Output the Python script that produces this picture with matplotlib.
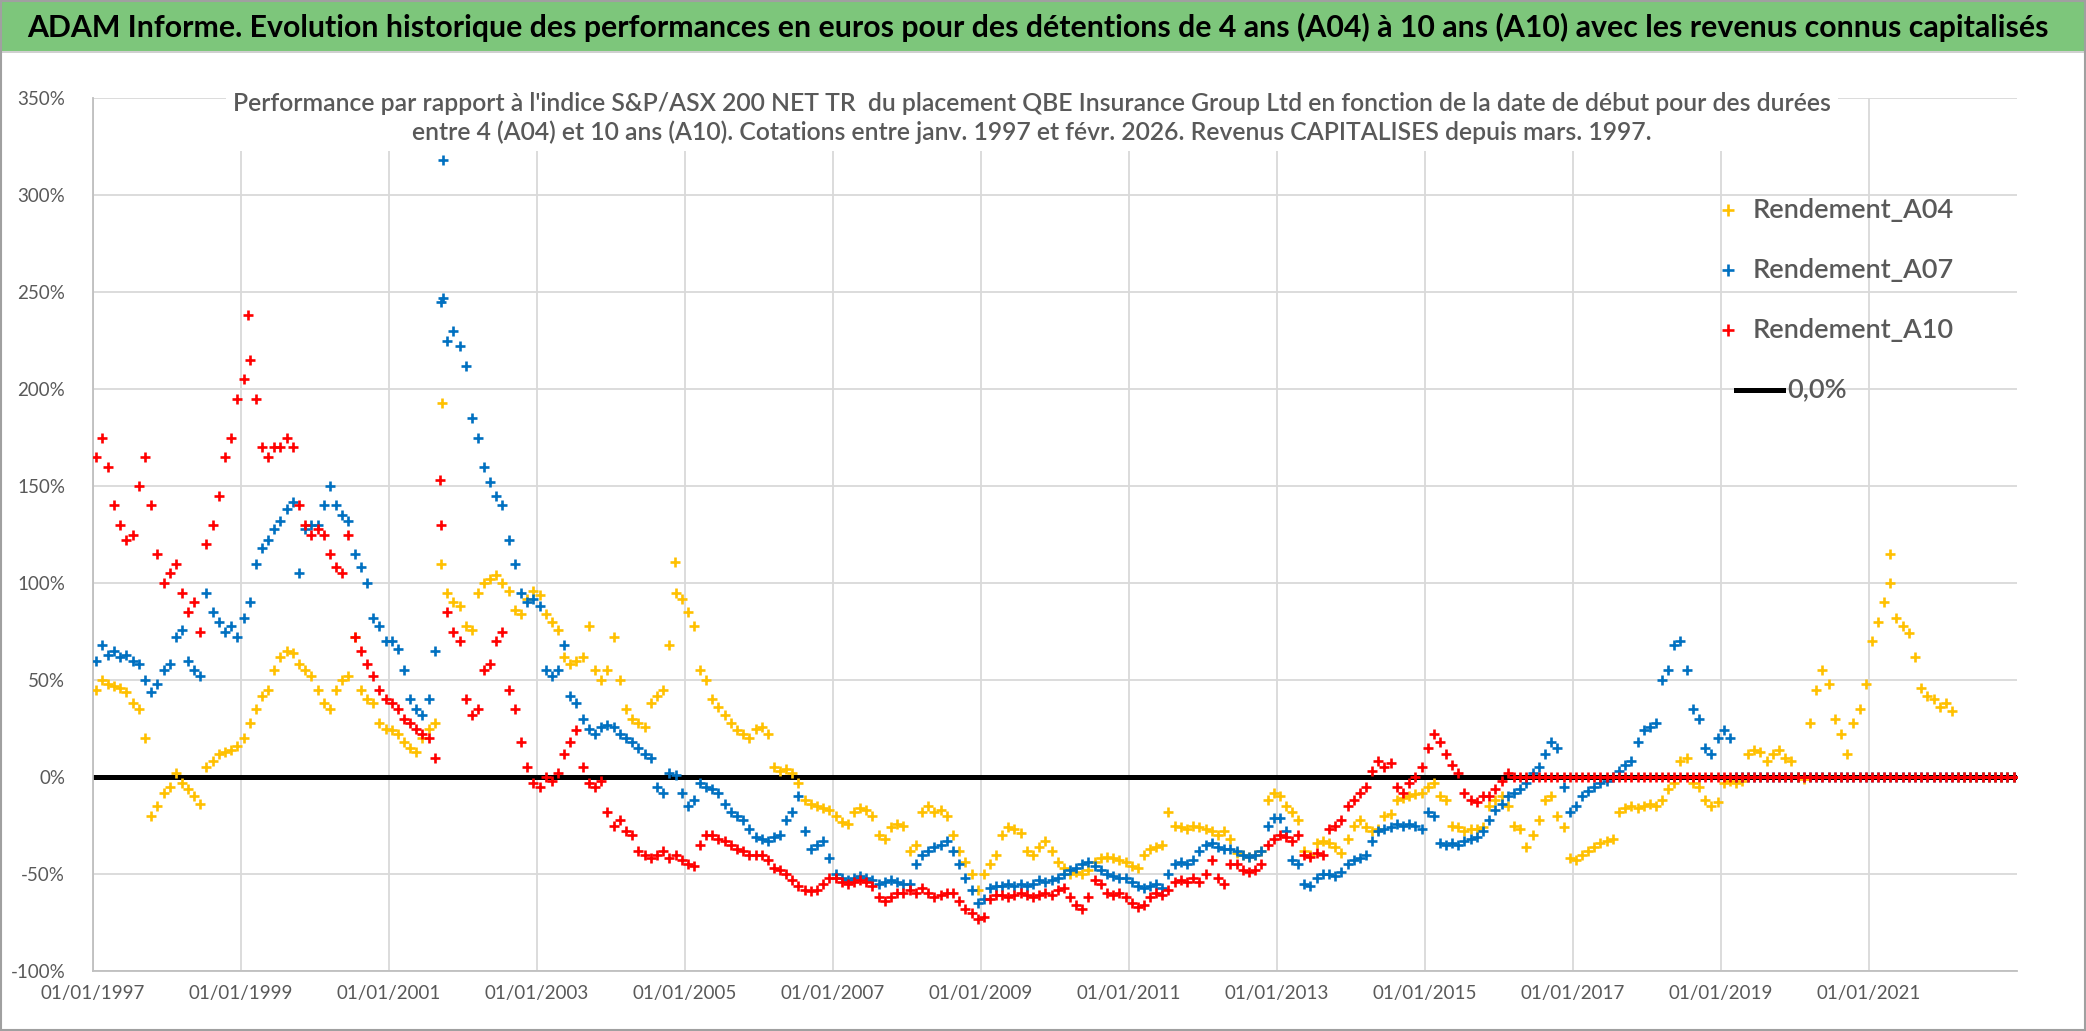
import numpy as np
import pandas as pd
import matplotlib
matplotlib.use("Agg")
import matplotlib.pyplot as plt
import matplotlib.dates as mdates
from matplotlib.lines import Line2D
from matplotlib.patches import Rectangle

# Valeurs mensuelles (en %), une ligne par annee
a04_start = "1997-01"
a04 = [
    45, 50, 48, 47, 46, 44, 38, 35, 20, -20, -15, -8,        # 1997
    -5, 2, -3, -6, -10, -14, 5, 8, 12, 13, 14, 16,            # 1998
    20, 28, 35, 42, 45, 55, 62, 65, 64, 58, 55, 52,           # 1999
    45, 38, 35, 45, 50, 52, 72, 45, 40, 38, 28, 25,           # 2000
    24, 22, 18, 15, 13, 20, 25, 28, 110, 95, 90, 88,          # 2001
    78, 76, 95, 100, 102, 104, 100, 96, 86, 84, 92, 96,       # 2002
    94, 84, 80, 76, 62, 58, 60, 62, 78, 55, 50, 55,           # 2003
    72, 50, 35, 30, 28, 26, 38, 42, 45, 68, 95, 92,           # 2004
    85, 78, 55, 50, 40, 36, 32, 28, 24, 22, 20, 25,           # 2005
    26, 22, 5, 3, 4, 2, -3, -12, -14, -15, -16, -17,          # 2006
    -20, -23, -24, -18, -16, -17, -20, -30, -32, -26, -24, -25,  # 2007
    -38, -35, -18, -15, -18, -17, -20, -30, -38, -44, -50, -58,  # 2008
    -50, -45, -40, -30, -26, -27, -29, -38, -40, -36, -33, -38,  # 2009
    -44, -47, -50, -49, -50, -48, -44, -42, -41, -42, -43, -44,  # 2010
    -46, -47, -40, -37, -36, -35, -18, -25, -26, -27, -25, -26,  # 2011
    -27, -28, -30, -28, -32, -39, -40, -41, -40, -38, -12, -8,   # 2012
    -10, -15, -18, -22, -38, -40, -34, -33, -34, -36, -39, -32,  # 2013
    -25, -22, -26, -28, -27, -20, -19, -12, -11, -10, -9, -8,    # 2014
    -5, -3, -10, -12, -25, -26, -28, -27, -27, -26, -15, -12,    # 2015
    -10, -15, -25, -27, -36, -30, -22, -12, -10, -20, -26, -42,  # 2016
    -43, -40, -38, -36, -34, -33, -32, -18, -16, -15, -16, -15,  # 2017
    -14, -15, -12, -6, -3, 8, 10, -3, -5, -12, -15, -13,         # 2018
    -3, -2, -3, -2, 12, 14, 13, 8, 12, 14, 10, 8,                # 2019
    0, -1, 28, 45, 55, 48, 30, 22, 12, 28, 35, 48,               # 2020
    70, 80, 90, 100, 82, 78, 74, 62, 46, 42, 40, 36,             # 2021
    38, 34,                                                      # 2022
]
a04_spike_dates = ["2001-09-20", "2004-11-12", "2021-04-15"]
a04_spike_vals = [193, 111, 115]

a07_start = "1997-01"
a07 = [
    60, 68, 63, 65, 62, 63, 60, 58, 50, 44, 48, 55,           # 1997
    58, 72, 76, 60, 55, 52, 95, 85, 80, 75, 78, 72,           # 1998
    82, 90, 110, 118, 122, 128, 132, 138, 142, 105, 128, 130, # 1999
    130, 140, 150, 140, 135, 132, 115, 108, 100, 82, 78, 70,  # 2000
    70, 66, 55, 40, 35, 32, 40, 65, 245, 225, 230, 222,       # 2001
    212, 185, 175, 160, 152, 145, 140, 122, 110, 95, 90, 92,  # 2002
    88, 55, 52, 55, 68, 42, 38, 30, 25, 22, 26, 27,           # 2003
    26, 22, 20, 18, 15, 12, 10, -5, -8, 2, 1, -8,             # 2004
    -15, -12, -3, -5, -6, -8, -14, -18, -20, -22, -27, -31,   # 2005
    -32, -33, -31, -30, -22, -18, -10, -28, -37, -35, -33, -42,  # 2006
    -50, -52, -53, -52, -51, -52, -53, -55, -54, -53, -54, -55,  # 2007
    -55, -45, -40, -38, -36, -35, -33, -38, -45, -52, -58, -65,  # 2008
    -63, -57, -56, -56, -55, -56, -55, -56, -55, -53, -54, -53,  # 2009
    -52, -50, -48, -47, -45, -44, -46, -48, -50, -51, -52, -52,  # 2010
    -54, -56, -57, -56, -55, -57, -50, -45, -44, -45, -43, -38,  # 2011
    -35, -34, -36, -37, -37, -38, -40, -41, -40, -38, -25, -21,  # 2012
    -21, -28, -43, -45, -55, -56, -52, -50, -50, -51, -49, -45,  # 2013
    -43, -42, -40, -33, -28, -27, -26, -24, -25, -24, -25, -27,  # 2014
    -18, -20, -34, -35, -34, -35, -33, -32, -31, -28, -22, -17,  # 2015
    -14, -10, -8, -6, -3, 2, 5, 12, 18, 15, -5, -18,             # 2016
    -15, -10, -7, -5, -3, -2, 0, 3, 6, 8, 18, 24,                # 2017
    26, 28, 50, 55, 68, 70, 55, 35, 30, 15, 12, 20,              # 2018
    24, 20,                                                      # 2019
]
a07_spike_dates = ["2001-09-22", "2001-09-26"]
a07_spike_vals = [318, 247]

a10_start = "1997-01"
a10 = [
    165, 175, 160, 140, 130, 122, 125, 150, 165, 140, 115, 100,  # 1997
    105, 110, 95, 85, 90, 75, 120, 130, 145, 165, 175, 195,      # 1998
    205, 215, 195, 170, 165, 170, 170, 175, 170, 140, 130, 125,  # 1999
    128, 125, 115, 108, 105, 125, 72, 65, 58, 52, 45, 40,        # 2000
    38, 35, 30, 28, 25, 22, 20, 10, 130, 85, 75, 70,             # 2001
    40, 32, 35, 55, 58, 70, 75, 45, 35, 18, 5, -3,               # 2002
    -5, 0, -2, 2, 12, 18, 24, 5, -3, -5, -2, -18,                # 2003
    -25, -22, -28, -30, -38, -40, -42, -40, -38, -42, -40, -43,  # 2004
    -45, -46, -35, -30, -30, -32, -33, -35, -37, -38, -40, -40,  # 2005
    -40, -43, -47, -48, -50, -53, -56, -58, -59, -58, -55, -52,  # 2006
    -52, -54, -55, -54, -53, -54, -56, -62, -64, -62, -60, -60,  # 2007
    -58, -60, -57, -60, -62, -61, -60, -60, -64, -68, -70, -73,  # 2008
    -72, -63, -61, -61, -62, -61, -60, -61, -62, -61, -60, -61,  # 2009
    -58, -57, -62, -66, -68, -62, -53, -55, -60, -61, -60, -62,  # 2010
    -65, -67, -66, -62, -60, -61, -58, -54, -53, -54, -52, -54,  # 2011
    -50, -43, -52, -55, -45, -45, -48, -49, -48, -45, -35, -32,  # 2012
    -30, -31, -33, -30, -40, -41, -39, -40, -27, -25, -22, -15,  # 2013
    -12, -8, -5, 3, 8, 5, 7, -5, -8, -3, 0, 5,                   # 2014
    15, 22, 18, 12, 6, 2, -8, -12, -13, -10, -10, -6,            # 2015
    -2, 2,                                                       # 2016
]
a10_spike_dates = ["1999-02-05", "2001-09-12"]
a10_spike_vals = [238, 153]

# apres la fin de chaque serie les points sont a 0 jusqu'au bout de l'axe
zero_until = "2022-12"
zero_line_dates = ["1997-01-01", "2023-01-01"]
zero_line_vals = [0.0, 0.0]

x_tick_years = list(range(1997, 2022, 2))
y_ticks = list(range(-100, 351, 50))

colors = {"A04": "#FFC000", "A07": "#0070C0", "A10": "#FF0000"}
gris = "#595959"
vert = "#7DC67B"

plt.rcParams["font.family"] = ["Lato", "DejaVu Sans"]

W, H = 2086, 1031
def fx(px):
    return px / W
def fy(py):
    return 1 - py / H


def serie(start, vals):
    d = pd.date_range(start, periods=len(vals), freq="MS") + pd.Timedelta(days=14)
    z = pd.date_range(d[-1] + pd.offsets.MonthBegin(1), zero_until, freq="MS") + pd.Timedelta(days=14)
    dates = d.append(z)
    v = np.concatenate([np.array(vals, float), np.zeros(len(z))])
    return dates, v


fig = plt.figure(figsize=(W / 100, H / 100), dpi=100)
fig.patch.set_facecolor("white")

# bandeau titre
fig.patches.append(Rectangle((0, fy(52)), 1, fy(2) - fy(52), transform=fig.transFigure,
                             facecolor=vert, edgecolor="none", zorder=0))
fig.patches.append(Rectangle((0, fy(53)), 1, fy(51) - fy(53), transform=fig.transFigure,
                             facecolor="#D0D0D0", edgecolor="none", zorder=0))
fig.patches.append(Rectangle((0.0005, 0.001), 0.999, 0.998, transform=fig.transFigure,
                             facecolor="none", edgecolor="#A0A0A0", lw=1.5, zorder=0))

ax = fig.add_axes([fx(93), fy(971), fx(2017) - fx(93), fy(98) - fy(971)])

ax.plot(pd.to_datetime(zero_line_dates), zero_line_vals, color="black", lw=3.6, zorder=2)

for key, start, vals, sd, sv in [("A04", a04_start, a04, a04_spike_dates, a04_spike_vals),
                                  ("A07", a07_start, a07, a07_spike_dates, a07_spike_vals),
                                  ("A10", a10_start, a10, a10_spike_dates, a10_spike_vals)]:
    dd, vv = serie(start, vals)
    ax.scatter(dd, vv, marker="+", s=60, linewidths=1.9, color=colors[key], zorder=3)
    ax.scatter(pd.to_datetime(sd), sv, marker="+", s=60, linewidths=1.9, color=colors[key], zorder=3)

ax.set_xlim(pd.Timestamp("1997-01-01"), pd.Timestamp("2023-01-01"))
ax.set_ylim(-100, 350)
ax.set_xticks([pd.Timestamp(f"{y}-01-01") for y in x_tick_years])
ax.xaxis.set_major_formatter(mdates.DateFormatter("%d/%m/%Y"))
ax.set_yticks(y_ticks)
ax.set_yticklabels([f"{t}%" for t in y_ticks])
ax.tick_params(length=0, labelsize=13.5, colors=gris)
ax.tick_params(axis="x", pad=10)
ax.tick_params(axis="y", pad=20)
ax.grid(True, color="#D9D9D9", lw=1.3)
ax.set_axisbelow(True)
for s in ["top", "right"]:
    ax.spines[s].set_visible(False)
for s in ["left", "bottom"]:
    ax.spines[s].set_color("#BFBFBF")
    ax.spines[s].set_linewidth(1.3)

renderer = fig.canvas.get_renderer()


def fit(t, largeur):
    w = t.get_window_extent(renderer).width
    t.set_fontsize(t.get_fontsize() * largeur / w)


titre = fig.text(fx(1038), fy(27), "ADAM Informe. Evolution historique des performances en euros pour des "
                 "détentions de 4 ans (A04) à 10 ans (A10) avec les revenus connus capitalisés",
                 ha="center", va="center", fontsize=20, fontweight="bold", color="black")
fit(titre, 2018)

l1 = "Performance par rapport à l'indice S&P/ASX 200 NET TR  du placement QBE Insurance Group Ltd en fonction de la date de début pour des durées"
l2 = "entre 4 (A04) et 10 ans (A10). Cotations entre janv. 1997 et févr. 2026. Revenus CAPITALISES depuis mars. 1997."
sous = fig.text(fx(1032), fy(118), l1 + "\n" + l2, ha="center", va="center", multialignment="center",
                fontsize=15, fontweight=600, color=gris, linespacing=1.3,
                bbox=dict(facecolor="white", edgecolor="none", pad=4))
tmp = fig.text(0, 0, l1, fontsize=15, fontweight=600)
w1 = tmp.get_window_extent(renderer).width
tmp.remove()
sous.set_fontsize(15 * 1603 / w1)

# legende
leg_y = [210, 270, 330]
for key, y in zip(["A04", "A07", "A10"], leg_y):
    fig.add_artist(Line2D([fx(1728)], [fy(y)], marker="+", ms=9, mew=1.9, ls="none",
                          color=colors[key], transform=fig.transFigure))
    t = fig.text(fx(1753), fy(y), f"Rendement_{key}", ha="left", va="center", fontsize=16,
                 fontweight=600, color=gris)
    fit(t, 202)
fig.add_artist(Line2D([fx(1736), fx(1783)], [fy(390), fy(390)], color="black", lw=3.6,
                      transform=fig.transFigure))
fig.text(fx(1787), fy(390), "0,0%", ha="left", va="center", fontsize=t.get_fontsize(),
         fontweight=600, color=gris)

fig.savefig("out.png", dpi=100)
